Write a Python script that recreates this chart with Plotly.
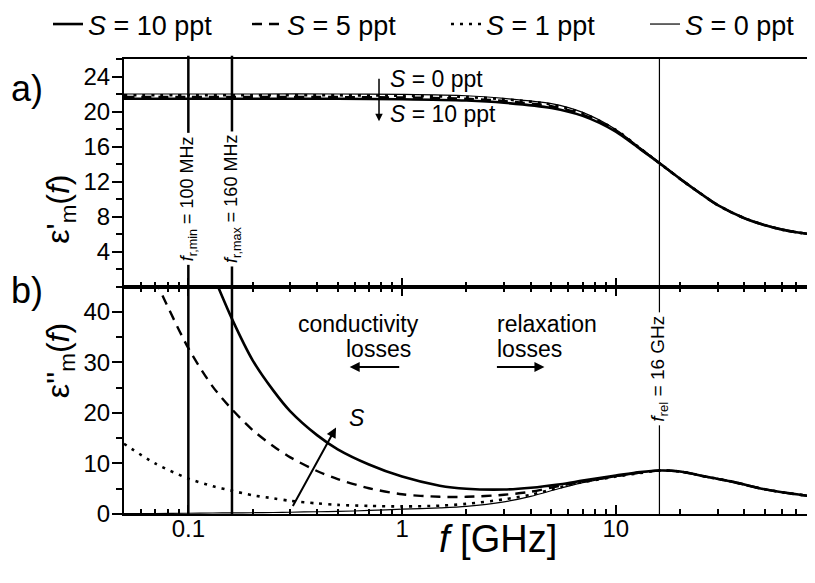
import numpy as np
import plotly.graph_objects as go

# ---------------- data ----------------
# panel a) real part eps'_m(f)
f_top = [0.05, 0.1, 0.2, 0.5, 1, 2, 3, 5, 7, 10, 13, 16, 20, 25, 30, 40, 50, 60, 70, 86]
eps1_s10 = [21.45, 21.45, 21.45, 21.45, 21.4, 21.25, 21.0, 20.4, 19.5, 17.7, 15.7, 14.1, 12.3, 10.6, 9.3, 7.8, 7.0, 6.5, 6.2, 5.9]
eps1_s5 = [21.65, 21.65, 21.65, 21.65, 21.6, 21.45, 21.2, 20.6, 19.65, 17.8, 15.75, 14.1, 12.3, 10.6, 9.3, 7.8, 7.0, 6.5, 6.2, 5.9]
eps1_s1 = [21.85, 21.85, 21.85, 21.85, 21.8, 21.65, 21.4, 20.8, 19.8, 17.9, 15.8, 14.1, 12.3, 10.6, 9.3, 7.8, 7.0, 6.5, 6.2, 5.9]
eps1_s0 = [22.0, 22.0, 22.0, 22.0, 21.95, 21.8, 21.5, 20.9, 19.9, 17.95, 15.85, 14.15, 12.3, 10.6, 9.3, 7.8, 7.0, 6.5, 6.2, 5.9]

# panel b) imaginary part eps''_m(f)
f_bot = [0.05, 0.07, 0.1, 0.13, 0.16, 0.2, 0.25, 0.3, 0.4, 0.5, 0.7, 1, 1.5, 2, 3, 4, 5.5, 7, 10, 13, 16, 20, 27, 35, 47, 60, 86]
eps2_s10 = [None, None, None, 47.5, 38.6, 30.4, 24.4, 20.3, 15.6, 12.8, 9.8, 7.4, 5.6, 5.0, 4.85, 5.2, 5.9, 6.6, 7.6, 8.3, 8.6, 8.4, 7.3, 6.4, 5.1, 4.3, 3.4]
eps2_s5 = [None, 46.3, 32.8, 25.2, 20.7, 16.6, 13.4, 11.2, 8.5, 6.9, 5.1, 3.9, 3.4, 3.4, 3.8, 4.4, 5.6, 6.4, 7.5, 8.2, 8.6, 8.4, 7.3, 6.4, 5.1, 4.3, 3.4]
eps2_s1 = [13.9, 10.0, 7.0, 5.5, 4.6, 3.7, 3.1, 2.6, 2.1, 1.8, 1.6, 1.5, 1.65, 2.0, 2.9, 3.8, 5.3, 6.3, 7.4, 8.1, 8.6, 8.4, 7.3, 6.4, 5.1, 4.3, 3.4]
eps2_s0 = [0.08, 0.1, 0.15, 0.2, 0.22, 0.25, 0.3, 0.35, 0.45, 0.5, 0.7, 0.95, 1.2, 1.5, 2.4, 3.5, 5.1, 6.2, 7.4, 8.1, 8.6, 8.4, 7.3, 6.4, 5.1, 4.3, 3.4]

series_names = ["<i>S</i> = 10 ppt", "<i>S</i> = 5 ppt", "<i>S</i> = 1 ppt", "<i>S</i> = 0 ppt"]

# reference frequencies (GHz)
f_ref = [0.1, 0.16, 16]
f_ref_labels = ["<i>f</i><sub>r,min</sub> = 100 MHz", "<i>f</i><sub>r,max</sub> = 160 MHz", "<i>f</i><sub>rel</sub> = 16 GHz"]

# tick labels
x_major = [0.1, 1, 10]
x_major_text = ["0.1", "1", "10"]
x_minor = [0.05, 0.06, 0.07, 0.08, 0.09, 0.2, 0.3, 0.4, 0.5, 0.6, 0.7, 0.8, 0.9,
           2, 3, 4, 5, 6, 7, 8, 9, 20, 30, 40, 50, 60, 70, 80]
ya_major = [4, 8, 12, 16, 20, 24]
ya_minor = [2, 6, 10, 14, 18, 22, 26]
yb_major = [0, 10, 20, 30, 40]
yb_minor = [5, 15, 25, 35, 45]

# ---------------- styles ----------------
FONT = "Liberation Sans, Arial, sans-serif"
styles = [dict(color="black", width=2.6),
          dict(color="black", width=2.4, dash="10px,7px"),
          dict(color="black", width=2.6, dash="3px,6px"),
          dict(color="black", width=1.2)]

fig = go.Figure()
top_sets = [eps1_s10, eps1_s5, eps1_s1, eps1_s0]
bot_sets = [eps2_s10, eps2_s5, eps2_s1, eps2_s0]
for name, st, yt, yb in zip(series_names, styles, top_sets, bot_sets):
    fig.add_trace(go.Scatter(x=f_top, y=yt, mode="lines", line=dict(shape="spline", smoothing=0.8, **st),
                             name=name, legendgroup=name, showlegend=True,
                             xaxis="x2", yaxis="y2"))
    fig.add_trace(go.Scatter(x=f_bot, y=yb, mode="lines", line=dict(shape="spline", smoothing=0.8, **st),
                             name=name, legendgroup=name, showlegend=False,
                             xaxis="x", yaxis="y"))

x_lo, x_hi = np.log10(0.05), 1.932

common_x = dict(type="log", range=[x_lo, x_hi], tickvals=x_major, ticktext=x_major_text,
                ticks="inside", ticklen=9, tickwidth=2, tickcolor="black",
                showline=True, linewidth=2, linecolor="black", showgrid=False, zeroline=False,
                minor=dict(tickvals=x_minor, ticks="inside", ticklen=5, tickwidth=1.5, tickcolor="black", showgrid=False),
                tickfont=dict(size=24, family=FONT, color="black"), ticklabelstandoff=-8)

common_y = dict(ticks="outside", ticklen=10, tickwidth=2, tickcolor="black",
                showline=True, linewidth=2, linecolor="black", showgrid=False, zeroline=False,
                tickfont=dict(size=24), ticklabelstandoff=-3)

# the page body adds an 8 px offset; the figure is sized so the plot sits where the reference has it
fig.update_layout(
    width=807, height=575,
    margin=dict(l=116, r=0, t=51, b=69, autoexpand=False),
    paper_bgcolor="white", plot_bgcolor="white",
    font=dict(family=FONT, color="black", size=24),
    xaxis=dict(domain=[0, 1], anchor="y", mirror="ticks", **common_x),
    xaxis2=dict(domain=[0, 1], anchor="y2", matches="x", mirror=True, showticklabels=False,
                **{k: v for k, v in common_x.items() if k not in ("tickfont", "ticklabelstandoff")}),
    yaxis=dict(domain=[0, 0.5], anchor="x", range=[0, 45], tickvals=yb_major,
               minor=dict(tickvals=yb_minor, ticks="outside", ticklen=6, tickwidth=1.5, tickcolor="black"),
               **common_y),
    yaxis2=dict(domain=[0.5, 1], anchor="x2", range=[0, 26], tickvals=ya_major,
                minor=dict(tickvals=ya_minor, ticks="outside", ticklen=6, tickwidth=1.5, tickcolor="black"),
                **common_y),
    yaxis3=dict(overlaying="y", side="right", anchor="x", matches="y", tickvals=yb_major[1:],
                ticks="inside", ticklen=5, tickwidth=2, tickcolor="black",
                showticklabels=False, showline=False, showgrid=False, zeroline=False),
    yaxis4=dict(overlaying="y2", side="right", anchor="x2", matches="y2", tickvals=ya_major,
                ticks="inside", ticklen=5, tickwidth=2, tickcolor="black",
                showticklabels=False, showline=False, showgrid=False, zeroline=False),
    legend=dict(orientation="h", x=-0.110, xanchor="left", y=1.1297, yanchor="top",
                font=dict(size=27, family=FONT), bgcolor="rgba(0,0,0,0)",
                entrywidth=154, entrywidthmode="pixels", tracegroupgap=0),
    showlegend=True,
)

# reference vertical lines
ref_widths = [2.5, 2.5, 1.2]
ref_top = [1.007, 1.007, 1.0]
for fr, w, yt in zip(f_ref, ref_widths, ref_top):
    fig.add_shape(type="line", xref="x", yref="paper", x0=fr, x1=fr, y0=0, y1=yt,
                  line=dict(color="black", width=w))

ann = []
# labels on reference lines (white background cuts the line)
ann.append(dict(x=np.log10(f_ref[0]), y=10.0, xref="x2", yref="y2", text=f_ref_labels[0],
                textangle=-90, showarrow=False, bgcolor="white", borderpad=3, font=dict(size=18)))
ann.append(dict(x=np.log10(f_ref[1]), y=10.0, xref="x2", yref="y2", text=f_ref_labels[1],
                textangle=-90, showarrow=False, bgcolor="white", borderpad=3, font=dict(size=18)))
ann.append(dict(x=np.log10(f_ref[2]), y=28.8, xref="x", yref="y", text=f_ref_labels[2],
                textangle=-90, showarrow=False, bgcolor="white", borderpad=3, font=dict(size=19)))

# panel a) salinity arrow
ann.append(dict(x=np.log10(0.78), y=18.9, xref="x2", yref="y2", text="", showarrow=True,
                ax=0, ay=-44, arrowhead=2, arrowsize=1, arrowwidth=1.5, arrowcolor="black"))
ann.append(dict(x=-0.064, y=23.7, xref="x2", yref="y2", text="<i>S</i> = 0 ppt", showarrow=False,
                xanchor="left", yanchor="middle", font=dict(size=23)))
ann.append(dict(x=-0.064, y=19.7, xref="x2", yref="y2", text="<i>S</i> = 10 ppt", showarrow=False,
                xanchor="left", yanchor="middle", font=dict(size=23)))

# panel b) annotations
ann.append(dict(x=-0.309, y=17.1, xref="x", yref="y", text="", showarrow=True,
                ax=-44, ay=80, arrowhead=2, arrowsize=1, arrowwidth=2, arrowcolor="black"))
ann.append(dict(x=-0.26, y=19.0, xref="x", yref="y", text="<i>S</i>", showarrow=False,
                xanchor="left", yanchor="middle", font=dict(size=23)))
ann.append(dict(x=-0.494, y=37.5, xref="x", yref="y", text="conductivity", showarrow=False,
                xanchor="left", yanchor="middle", font=dict(size=23)))
ann.append(dict(x=-0.27, y=32.7, xref="x", yref="y", text="losses", showarrow=False,
                xanchor="left", yanchor="middle", font=dict(size=23)))
ann.append(dict(x=-0.245, y=29.1, xref="x", yref="y", text="", showarrow=True,
                ax=51, ay=0, arrowhead=2, arrowsize=1, arrowwidth=2, arrowcolor="black"))
ann.append(dict(x=0.437, y=37.5, xref="x", yref="y", text="relaxation", showarrow=False,
                xanchor="left", yanchor="middle", font=dict(size=23)))
ann.append(dict(x=0.437, y=32.7, xref="x", yref="y", text="losses", showarrow=False,
                xanchor="left", yanchor="middle", font=dict(size=23)))
ann.append(dict(x=0.666, y=29.1, xref="x", yref="y", text="", showarrow=True,
                ax=-49, ay=0, arrowhead=2, arrowsize=1, arrowwidth=2, arrowcolor="black"))

# axis titles and panel letters
ann.append(dict(x=-0.1245, y=0.75, xref="paper", yref="paper", text="ε'<sub>m</sub>(<i>f</i>)",
                textangle=-90, showarrow=False, font=dict(size=32)))
ann.append(dict(x=-0.1245, y=0.25, xref="paper", yref="paper", text="ε''<sub>m</sub>(<i>f</i>)",
                textangle=-90, showarrow=False, font=dict(size=32)))
ann.append(dict(x=0.541, y=-0.105, xref="paper", yref="paper", text="<i>f</i> [GHz]",
                showarrow=False, font=dict(size=38)))
ann.append(dict(x=-0.166, y=0.985, xref="paper", yref="paper", text="a)", xanchor="left",
                showarrow=False, font=dict(size=36)))
ann.append(dict(x=-0.166, y=0.492, xref="paper", yref="paper", text="b)", xanchor="left",
                showarrow=False, font=dict(size=36)))

fig.update_layout(annotations=ann)
fig.write_html("out.html")
